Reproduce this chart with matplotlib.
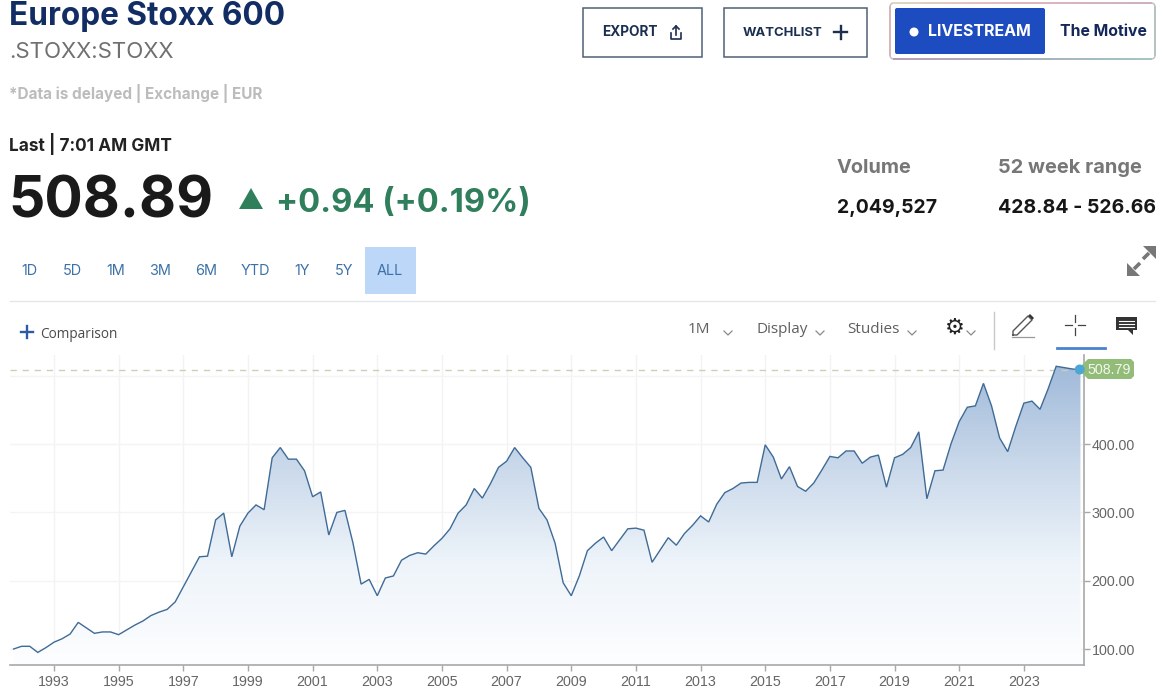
import matplotlib
matplotlib.use('Agg')
import matplotlib.pyplot as plt
import numpy as np
from matplotlib.colors import LinearSegmentedColormap
from matplotlib.patches import FancyBboxPatch, Polygon, Rectangle, Circle

W, H = 1164, 689

# Quarterly index levels, from Q4 1991 on
values = [100, 104, 104, 95, 102, 110, 115, 122, 139, 131,
          123, 125, 125, 121, 128, 135, 141, 149, 154, 158,
          169, 191, 213, 235, 236, 289, 299, 235, 280, 299,
          311, 304, 380, 395, 378, 378, 361, 323, 330, 267,
          300, 303, 255, 195, 202, 178, 204, 207,
          230, 237, 241, 239, 251, 262, 276, 299, 311, 335,
          321, 342, 366, 375, 395, 380, 366, 306, 289, 255,
          197, 178, 207, 244, 255, 264, 244, 260, 276, 277,
          274, 227, 245, 263, 252, 269, 281, 295, 286, 312,
          329, 335, 343, 344, 344,
          399, 381, 349, 367, 338, 331, 343, 362, 382, 380,
          390, 390, 372, 381, 384, 337, 380, 385, 395, 418,
          320, 361, 362, 401, 433, 454, 456, 489, 456, 409,
          389, 426, 460, 463, 451, 481, 514, 512, 510, 508.79]
first_year = 1991.75
year_ticks = list(range(1993, 2024, 2))
price_ticks = [100, 200, 300, 400]
grid_prices = [100, 200, 300, 400, 500]
last_value = 508.79

range_buttons = ['1D', '5D', '1M', '3M', '6M', 'YTD', '1Y', '5Y', 'ALL']
range_centers = [29, 72, 116, 160, 206, 255, 302, 344, 390]

years = first_year + np.arange(len(values)) * 0.25

fig = plt.figure(figsize=(W / 100, H / 100), dpi=100, facecolor='white')

# chart axes, placed by pixels
left, right, top, bottom = 10, 1084, 355, 665
ax = fig.add_axes([left / W, 1 - bottom / H, (right - left) / W, (bottom - top) / H])
ax.set_xlim(1991.64, 2024.86)
ax.set_ylim(76.6, 530.5)
for s in ['top', 'left']:
    ax.spines[s].set_visible(False)
ax.spines['bottom'].set_color('#a8a8a8')
ax.spines['right'].set_color('#a8a8a8')
ax.spines['bottom'].set_linewidth(1.2)
ax.spines['right'].set_linewidth(1.2)
ax.yaxis.tick_right()
ax.set_xticks(year_ticks)
ax.set_yticks(price_ticks)
ax.set_yticklabels(['%.2f' % p for p in price_ticks])
ax.tick_params(axis='x', length=4, width=1, color='#a8a8a8', labelsize=10.3,
               labelcolor='#666666', pad=3)
ax.tick_params(axis='y', length=4, width=1, color='#a8a8a8', labelsize=10.3,
               labelcolor='#666666', pad=1.5)
for lab in ax.get_xticklabels() + ax.get_yticklabels():
    lab.set_family('Liberation Sans')

for y in year_ticks:
    ax.axvline(y, color='#f3f3f5', lw=1, zorder=0)
for p in grid_prices:
    ax.axhline(p, color='#f5f4f4', lw=1, zorder=0)

# gradient area under the line
area = ax.fill_between(years, values, 76.6, color='none', lw=0)
cmap = LinearSegmentedColormap.from_list('area', ['#fdfeff', '#eef4fa', '#c9d8ea', '#9fb9d9'])
grad = ax.imshow(np.linspace(0, 1, 256).reshape(-1, 1), origin='lower', aspect='auto', cmap=cmap,
                 extent=[1991.64, 2024.86, 76.6, 520], zorder=1)
ax.set_xlim(1991.64, 2024.86)
ax.set_ylim(76.6, 530.5)
grad.set_clip_path(area.get_paths()[0], transform=ax.transData)

ax.plot(years, values, color='#3f6b96', lw=1.0, zorder=3, solid_joinstyle='miter')
ax.plot([1991.64, 2024.62], [last_value, last_value], color='#cfcdb8', lw=1.0,
        dashes=(4.5, 4.2), zorder=2)

# everything around the chart, in pixel coordinates
ov = fig.add_axes([0, 0, 1, 1], facecolor='none')
ov.set_xlim(0, W)
ov.set_ylim(H, 0)
ov.axis('off')

HEAD = 'Inter'


def txt(x, y, s, size, color, weight='normal', ha='left', va='baseline', family=HEAD):
    return ov.text(x, y, s, fontsize=size, color=color, fontweight=weight, ha=ha, va=va, family=family)


txt(9, 25, 'Europe Stoxx 600', 22.7, '#122d63', 'bold')
txt(9, 58, '.STOXX:STOXX', 16, '#707070')
txt(9, 99, '*Data is delayed | Exchange | EUR', 11, '#bcbcbc', 'bold')
txt(9, 151, 'Last | 7:01 AM GMT', 12.4, '#222222', 'bold')
txt(8.5, 217, '508.89', 41, '#1a1a1a', 'bold')
ov.add_patch(Polygon([[239, 209], [263, 209], [251, 188]], color='#2f7f5c', lw=0))
txt(276, 212, '+0.94 (+0.19%)', 23.5, '#2f7f5c', 'bold')

ov.add_patch(Rectangle((365, 247), 51, 47, color='#bdd7f9', lw=0))
for label, cx in zip(range_buttons, range_centers):
    txt(cx, 275, label, 10.4, '#3c72a8', ha='center')
ov.plot([10, 1155], [300.5, 300.5], color='#e4e6e8', lw=1)

# buttons
ov.add_patch(Rectangle((583, 8), 119, 49, fc='white', ec='#4e6076', lw=1.1))
txt(602, 36, 'EXPORT', 9.8, '#1b2f50', 'bold')
ov.plot([671, 671, 681, 681], [33, 39, 39, 33], color='#1b2f50', lw=1.2)
ov.plot([676, 676], [35, 26], color='#1b2f50', lw=1.2)
ov.plot([673, 676, 679], [29, 26, 29], color='#1b2f50', lw=1.2)

ov.add_patch(Rectangle((724, 8), 143, 49, fc='white', ec='#4e6076', lw=1.1))
txt(743, 36, 'WATCHLIST', 9.4, '#1b2f50', 'bold')
ov.plot([834, 847], [32, 32], color='#1b2f50', lw=1.7)
ov.plot([840.5, 840.5], [25.5, 38.5], color='#1b2f50', lw=1.7)

# livestream box with its multicoloured border
ov.add_patch(FancyBboxPatch((890, 3), 265, 56, boxstyle='round,pad=0,rounding_size=4',
                            fc='white', ec='#c8c0c8', lw=1.1))
top_edge = LinearSegmentedColormap.from_list('t', ['#e6d9b8', '#e3b0b8', '#c9a8c0'])
bot_edge = LinearSegmentedColormap.from_list('b', ['#b08fb0', '#9aa6b8', '#93c6bc'])
for k in range(26):
    x0, x1 = 893 + k * 10, 893 + (k + 1) * 10
    ov.plot([x0, min(x1, 1152)], [3, 3], color=top_edge(k / 25), lw=1.1, solid_capstyle='butt')
    ov.plot([x0, min(x1, 1152)], [59, 59], color=bot_edge(k / 25), lw=1.1, solid_capstyle='butt')
ov.plot([890, 890], [7, 55], color='#d8b0b0', lw=1.1)
ov.plot([1155, 1155], [7, 55], color='#a9c0b8', lw=1.1)
ov.add_patch(FancyBboxPatch((895, 8), 150, 46, boxstyle='round,pad=0,rounding_size=2',
                            fc='#1c4cbf', ec='none'))
ov.add_patch(Circle((914, 32), 4.5, color='white', lw=0))
txt(928, 36, 'LIVESTREAM', 11.5, 'white', 'bold')
txt(1060, 36, 'The Motive', 11.4, '#13275a', 'bold')

# stats
txt(837, 173, 'Volume', 14.3, '#777777', 'bold')
txt(998, 173, '52 week range', 14.4, '#777777', 'bold')
txt(837, 213, '2,049,527', 14, '#161616', 'bold')
txt(998, 213, '428.84 - 526.66', 14, '#161616', 'bold')

# expand arrows
ov.add_patch(Polygon([[1156, 246], [1156, 259], [1143, 246]], color='#777777', lw=0))
ov.add_patch(Polygon([[1127, 276], [1127, 263], [1140, 276]], color='#777777', lw=0))
ov.plot([1149, 1143], [253, 259], color='#777777', lw=2.6, solid_capstyle='butt')
ov.plot([1134, 1140], [269, 263], color='#777777', lw=2.6, solid_capstyle='butt')

# toolbar
ov.plot([21, 33], [332, 332], color='#2c5aa8', lw=1.7)
ov.plot([27, 27], [326, 338], color='#2c5aa8', lw=1.7)
txt(40, 338, 'Comparison', 9.8, '#4a4a4a', family='Open Sans')
for label, x in zip(['1M', 'Display', 'Studies'], [688, 756, 847]):
    txt(x, 333, label, 11, '#5f5f5f', family='Open Sans')
for x in [728, 820, 912, 971]:
    ov.plot([x - 4, x, x + 4], [331, 335, 331], color='#8a8a8a', lw=0.9)
ov.text(955, 328, '\u2699', fontsize=16, color='#222222', ha='center', va='center', family='DejaVu Sans',
        fontweight='bold')
ov.plot([994, 994], [312, 349], color='#c9c9c9', lw=1)
ov.plot([1013, 1017, 1032, 1028, 1013, 1013], [335, 335, 320, 316, 331, 335], color='#555555', lw=1)
ov.add_patch(Polygon([[1028, 316], [1030, 314], [1034, 318], [1032, 320]], color='#333333', lw=0))
ov.plot([1012, 1034], [337, 337], color='#999999', lw=0.9)
ov.plot([1065, 1072], [325, 325], color='#444444', lw=0.9)
ov.plot([1078, 1085], [325, 325], color='#444444', lw=0.9)
ov.plot([1075, 1075], [315, 322], color='#444444', lw=0.9)
ov.plot([1075, 1075], [328, 335], color='#444444', lw=0.9)
ov.plot([1057, 1105], [348, 348], color='#4a82d2', lw=2)
ov.add_patch(Polygon([[1116, 317], [1137, 317], [1137, 330], [1133, 330], [1133, 335], [1128, 330], [1116, 330]],
                     color='#333333', lw=0))
for yy in [321, 324, 327]:
    ov.plot([1119, 1134], [yy, yy], color='white', lw=0.8)

# last price tag
ov.add_patch(Polygon([[1078, 369], [1088, 359], [1131, 359], [1134, 362], [1134, 376], [1131, 379],
                      [1088, 379]], fc='#92bc78', ec='none', zorder=4, joinstyle='round'))
txt(1087, 374, '508.79', 10.3, '#f2f7ee', family='Liberation Sans').set_zorder(5)
ov.add_patch(Circle((1079.7, 369.5), 5, color='#4ba6d6', lw=0, zorder=6))

fig.savefig('out.png', dpi=100)
